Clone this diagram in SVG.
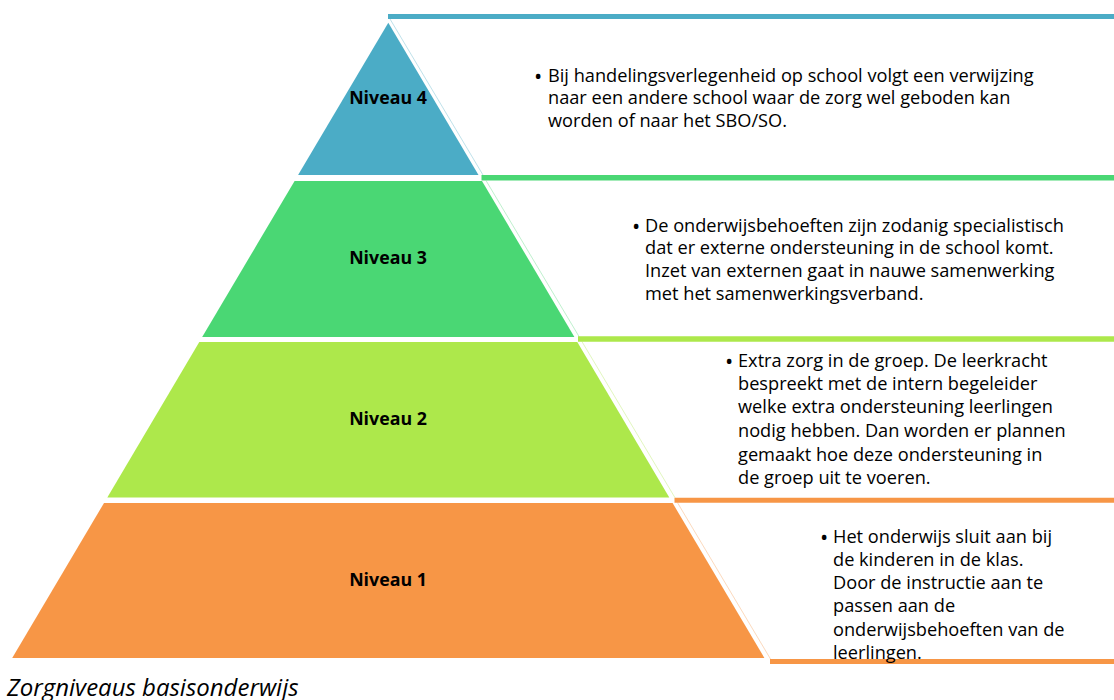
<svg xmlns="http://www.w3.org/2000/svg" width="1114" height="700" viewBox="0 0 1114 700">
<style>
.lbl{font-family:"Open Sans","Liberation Sans",sans-serif;font-weight:bold;font-size:17.8px;fill:#000;text-anchor:middle}
.txt{font-family:"Open Sans","Liberation Sans",sans-serif;font-size:18.2px;fill:#000}
.bul{font-family:"Open Sans","Liberation Sans",sans-serif;font-size:22px;fill:#000}
.cap{font-family:"Open Sans","Liberation Sans",sans-serif;font-style:italic;font-size:24px;fill:#000}
</style>
<rect width="1114" height="700" fill="#fff"/>
<g id="connectors">
<line x1="388" y1="16.5" x2="1114" y2="16.5" stroke="#4BACC6" stroke-width="5"/>
<line x1="481.5" y1="177.7" x2="1114" y2="177.7" stroke="#4AD774" stroke-width="5.5"/>
<line x1="578" y1="339" x2="1114" y2="339" stroke="#ADE84B" stroke-width="5.5"/>
<line x1="674.5" y1="500.2" x2="1114" y2="500.2" stroke="#F79646" stroke-width="5"/>
<line x1="770" y1="661.6" x2="1114" y2="661.6" stroke="#F79646" stroke-width="5"/>
<line x1="390" y1="19" x2="483" y2="175" stroke="#4BACC6" stroke-width="1" opacity="0.35"/>
<line x1="486" y1="180.5" x2="579" y2="336.5" stroke="#4AD774" stroke-width="1" opacity="0.35"/>
<line x1="582" y1="341.7" x2="675" y2="497.7" stroke="#ADE84B" stroke-width="1" opacity="0.35"/>
<line x1="677.5" y1="502.7" x2="770.5" y2="659" stroke="#F79646" stroke-width="1" opacity="0.35"/>
</g>
<g id="niveau4">
<polygon points="388.3,22.7 478.5,175 298.1,175" fill="#4BACC6"/>
<text class="lbl" x="388" y="104">Niveau 4</text>
<text class="bul" x="534" y="83.5">•</text>
<text class="txt" x="548" y="81.7">Bij handelingsverlegenheid op school volgt een verwijzing</text>
<text class="txt" x="548" y="104.3">naar een andere school waar de zorg wel geboden kan</text>
<text class="txt" x="548" y="127">worden of naar het SBO/SO.</text>
</g>
<g id="niveau3">
<polygon points="294.6,181 482,181 574.4,337 202.2,337" fill="#4AD774"/>
<text class="lbl" x="388" y="263.5">Niveau 3</text>
<text class="bul" x="632" y="233.5">•</text>
<text class="txt" x="645" y="231.7">De onderwijsbehoeften zijn zodanig specialistisch</text>
<text class="txt" x="645" y="254.3">dat er externe ondersteuning in de school komt.</text>
<text class="txt" x="645" y="277">Inzet van externen gaat in nauwe samenwerking</text>
<text class="txt" x="645" y="299.6">met het samenwerkingsverband.</text>
</g>
<g id="niveau2">
<polygon points="199.3,342 577.3,342 669.3,497.5 107.3,497.5" fill="#ADE84B"/>
<text class="lbl" x="388" y="424.5">Niveau 2</text>
<text class="bul" x="725" y="368.5">•</text>
<text class="txt" x="738" y="366.7">Extra zorg in de groep. De leerkracht</text>
<text class="txt" x="738" y="390">bespreekt met de intern begeleider</text>
<text class="txt" x="738" y="413.4">welke extra ondersteuning leerlingen</text>
<text class="txt" x="738" y="437">nodig hebben. Dan worden er plannen</text>
<text class="txt" x="738" y="460.6">gemaakt hoe deze ondersteuning in</text>
<text class="txt" x="738" y="484">de groep uit te voeren.</text>
</g>
<g id="niveau1">
<polygon points="104,503 672.6,503 764.4,658 12.2,658" fill="#F79646"/>
<text class="lbl" x="388" y="585.5">Niveau 1</text>
<text class="bul" x="820" y="544.8">•</text>
<text class="txt" x="833" y="543">Het onderwijs sluit aan bij</text>
<text class="txt" x="833" y="566">de kinderen in de klas.</text>
<text class="txt" x="833" y="589">Door de instructie aan te</text>
<text class="txt" x="833" y="612">passen aan de</text>
<text class="txt" x="833" y="635.5">onderwijsbehoeften van de</text>
<text class="txt" x="833" y="658.5">leerlingen.</text>
</g>
<text class="cap" x="7" y="696">Zorgniveaus basisonderwijs</text>
</svg>
